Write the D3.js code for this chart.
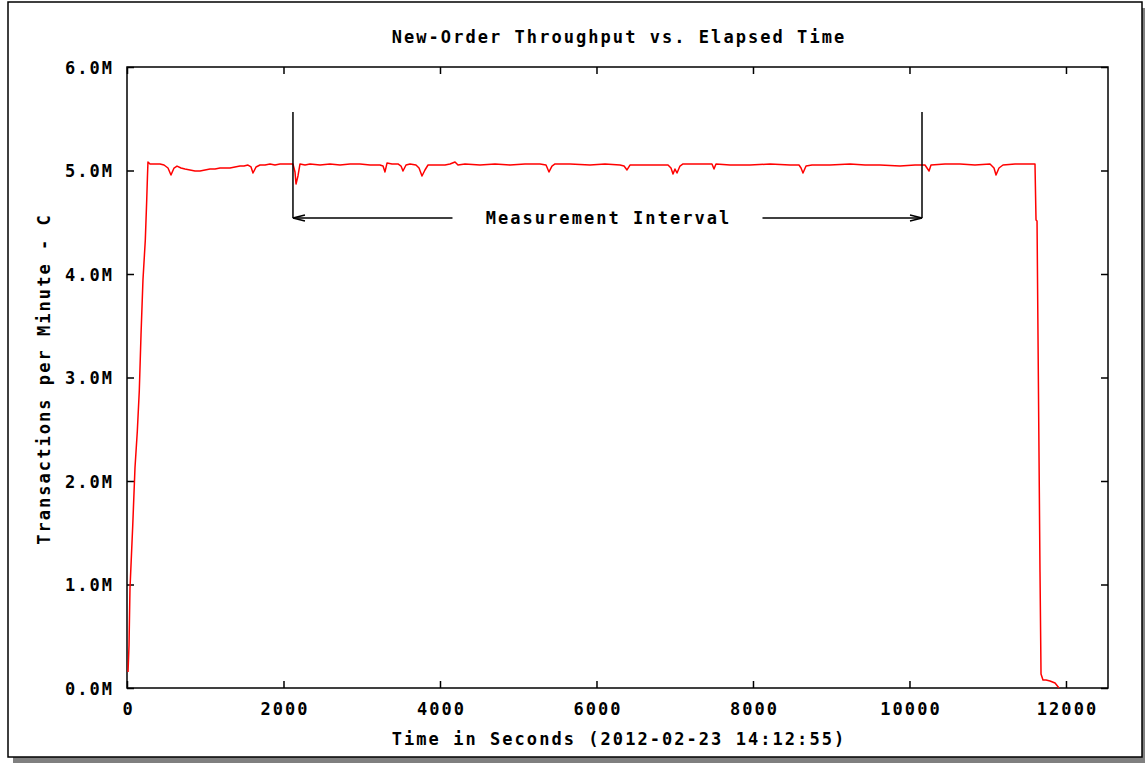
<!DOCTYPE html>
<html>
<head>
<meta charset="utf-8">
<script src="https://cdn.jsdelivr.net/npm/d3@7"></script>
<style>
  html, body { margin: 0; padding: 0; background: #fff; }
  svg { display: block; }
  text { font-family: "DejaVu Sans Mono", "Liberation Mono", monospace; font-weight: bold; font-size: 17px; letter-spacing: 2.05px; fill: #000; }
</style>
</head>
<body>
<svg id="chart" width="1145" height="763"></svg>
<script>
// ---- data ----
const chartTitle = "New-Order Throughput vs. Elapsed Time";
const xAxisLabel = "Time in Seconds (2012-02-23 14:12:55)";
const yAxisLabel = "Transactions per Minute - C";
const intervalLabel = "Measurement Interval";

const xTicks = [0, 2000, 4000, 6000, 8000, 10000, 12000];
const yTicks = [0, 1, 2, 3, 4, 5, 6];             // millions
const xDomain = [0, 12537];
const yDomain = [0, 6];

const measurementStart = 2121;   // seconds
const measurementEnd = 10160;    // seconds
const markerTop = 5.565;         // millions
const markerBottom = 4.541;      // millions

// elapsed seconds
const seconds = [13, 26, 38, 73, 102, 132, 157, 179, 204, 234, 252, 262, 268, 294, 358, 422, 473, 524, 562, 601,
  639, 690, 741, 805, 869, 933, 997, 1061, 1125, 1189, 1252, 1316, 1380, 1444, 1495, 1546, 1585, 1610, 1649, 1700,
  1764, 1828, 1891, 1955, 2019, 2083, 2121, 2147, 2160, 2185, 2211, 2275, 2339, 2467, 2594, 2722, 2850, 2978, 3106, 3233,
  3272, 3297, 3323, 3387, 3463, 3502, 3527, 3566, 3617, 3693, 3732, 3770, 3808, 3847, 3936, 4064, 4128, 4192, 4230, 4320,
  4511, 4703, 4895, 5086, 5278, 5355, 5393, 5431, 5470, 5662, 5917, 6109, 6301, 6352, 6390, 6428, 6556, 6748, 6914, 6952,
  6978, 7003, 7029, 7067, 7106, 7259, 7476, 7502, 7527, 7706, 7962, 8218, 8473, 8588, 8614, 8639, 8678, 8754, 8984, 9240,
  9432, 9623, 9879, 10071, 10198, 10224, 10250, 10275, 10454, 10646, 10837, 11029, 11080, 11106, 11144, 11195, 11349, 11476, 11604, 11617,
  11630, 11668, 11681, 11706, 11745, 11796, 11860, 11911];

// new-order transactions per minute, millions
const tpmC = [0.155, 0.415, 0.957, 1.565, 2.126, 2.483, 2.870, 3.411, 3.942, 4.329, 4.715, 4.957, 5.082, 5.063, 5.063, 5.063, 5.053, 5.024, 4.957, 5.024,
  5.043, 5.024, 5.014, 5.005, 4.995, 4.995, 5.005, 5.014, 5.014, 5.024, 5.024, 5.024, 5.034, 5.043, 5.043, 5.053, 5.034, 4.976, 5.034, 5.053,
  5.053, 5.063, 5.053, 5.063, 5.063, 5.063, 5.063, 4.986, 4.870, 4.947, 5.063, 5.053, 5.063, 5.053, 5.063, 5.053, 5.063, 5.063, 5.053, 5.053,
  5.043, 4.986, 5.072, 5.063, 5.063, 5.043, 4.995, 5.053, 5.063, 5.053, 5.024, 4.947, 5.005, 5.053, 5.053, 5.053, 5.063, 5.082, 5.053, 5.063,
  5.053, 5.063, 5.053, 5.063, 5.063, 5.053, 4.986, 5.043, 5.063, 5.063, 5.053, 5.063, 5.053, 5.043, 5.005, 5.053, 5.053, 5.053, 5.053, 5.024,
  4.966, 5.014, 4.976, 5.043, 5.063, 5.063, 5.063, 5.014, 5.063, 5.053, 5.053, 5.063, 5.053, 5.053, 5.024, 4.976, 5.043, 5.053, 5.053, 5.063,
  5.053, 5.053, 5.043, 5.053, 5.053, 5.024, 4.995, 5.053, 5.063, 5.063, 5.053, 5.063, 5.024, 4.957, 5.024, 5.053, 5.063, 5.063, 5.063, 4.522,
  4.512, 1.121, 0.135, 0.077, 0.077, 0.068, 0.048, 0.000];

// ---- drawing ----
const svg = d3.select("#chart");
const W = 1145, H = 763;
const plot = { left: 127, right: 1108, top: 67, bottom: 688 };
const ls = 2.05; // letter spacing

// page frame + shadow
svg.append("rect").attr("x", 13).attr("y", 8).attr("width", W - 13).attr("height", H - 8).attr("fill", "#808080");
svg.append("rect").attr("x", 8).attr("y", 2).attr("width", 1134).attr("height", 755)
  .attr("fill", "#fff").attr("stroke", "#000").attr("stroke-width", 1.5);

const x = d3.scaleLinear().domain(xDomain).range([plot.left, plot.right]);
const y = d3.scaleLinear().domain(yDomain).range([plot.bottom, plot.top]);

const tick = 7;
function styleAxis(g) {
  g.attr("font-family", null).attr("font-size", null);
  g.select(".domain").remove();
  g.selectAll(".tick line").attr("stroke", "#000").attr("stroke-width", 1.5);
}

// bottom axis with labels
const gx = svg.append("g").attr("transform", `translate(0,${plot.bottom})`)
  .call(d3.axisBottom(x).tickValues(xTicks).tickFormat(d3.format("d")).tickSizeInner(-tick).tickSizeOuter(0));
styleAxis(gx);
gx.selectAll(".tick text").attr("y", 27).attr("dy", 0).attr("dx", ls / 2);

// top mirror ticks
const gxt = svg.append("g").attr("transform", `translate(0,${plot.top})`)
  .call(d3.axisTop(x).tickValues(xTicks).tickFormat("").tickSizeInner(-tick).tickSizeOuter(0));
styleAxis(gxt);

// left axis with labels
const gy = svg.append("g").attr("transform", `translate(${plot.left},0)`)
  .call(d3.axisLeft(y).tickValues(yTicks).tickFormat(d => d.toFixed(1) + "M").tickSizeInner(-tick).tickSizeOuter(0));
styleAxis(gy);
gy.selectAll(".tick text").attr("x", -(15 - ls)).attr("dy", "0.36em");

// right mirror ticks
const gyr = svg.append("g").attr("transform", `translate(${plot.right},0)`)
  .call(d3.axisRight(y).tickValues(yTicks).tickFormat("").tickSizeInner(-tick).tickSizeOuter(0));
styleAxis(gyr);

// plot border
svg.append("rect").attr("x", plot.left).attr("y", plot.top)
  .attr("width", plot.right - plot.left).attr("height", plot.bottom - plot.top)
  .attr("fill", "none").attr("stroke", "#000").attr("stroke-width", 1.5);

// data line
const pts = seconds.map((s, i) => [s, tpmC[i]]);
svg.append("path").datum(pts)
  .attr("fill", "none").attr("stroke", "#ff0000").attr("stroke-width", 1.5).attr("stroke-linejoin", "round")
  .attr("d", d3.line().x(d => x(d[0])).y(d => y(d[1])));

// measurement interval markers
const mx1 = x(measurementStart), mx2 = x(measurementEnd);
const my1 = y(markerTop), my2 = y(markerBottom);
const mk = svg.append("g").attr("stroke", "#000").attr("stroke-width", 1.5).attr("fill", "none");
mk.append("line").attr("x1", mx1).attr("x2", mx1).attr("y1", my1).attr("y2", my2);
mk.append("line").attr("x1", mx2).attr("x2", mx2).attr("y1", my1).attr("y2", my2);
const midX = (mx1 + mx2) / 2;
const labelHalf = 155;
mk.append("line").attr("x1", mx1).attr("x2", midX - labelHalf).attr("y1", my2).attr("y2", my2);
mk.append("line").attr("x1", midX + labelHalf).attr("x2", mx2).attr("y1", my2).attr("y2", my2);
// arrow heads
mk.append("path").attr("d", `M${mx1 + 12},${my2 - 3} L${mx1},${my2} L${mx1 + 12},${my2 + 3}`);
mk.append("path").attr("d", `M${mx2 - 12},${my2 - 3} L${mx2},${my2} L${mx2 - 12},${my2 + 3}`);
svg.append("text").attr("x", midX + ls / 2).attr("y", my2 + 6).attr("text-anchor", "middle").text(intervalLabel);

// titles
svg.append("text").attr("x", 619).attr("y", 43).attr("text-anchor", "middle").text(chartTitle);
svg.append("text").attr("x", 619).attr("y", 745).attr("text-anchor", "middle").text(xAxisLabel);
svg.append("text").attr("transform", `translate(50,379) rotate(-90)`).attr("text-anchor", "middle").text(yAxisLabel);
</script>
</body>
</html>
